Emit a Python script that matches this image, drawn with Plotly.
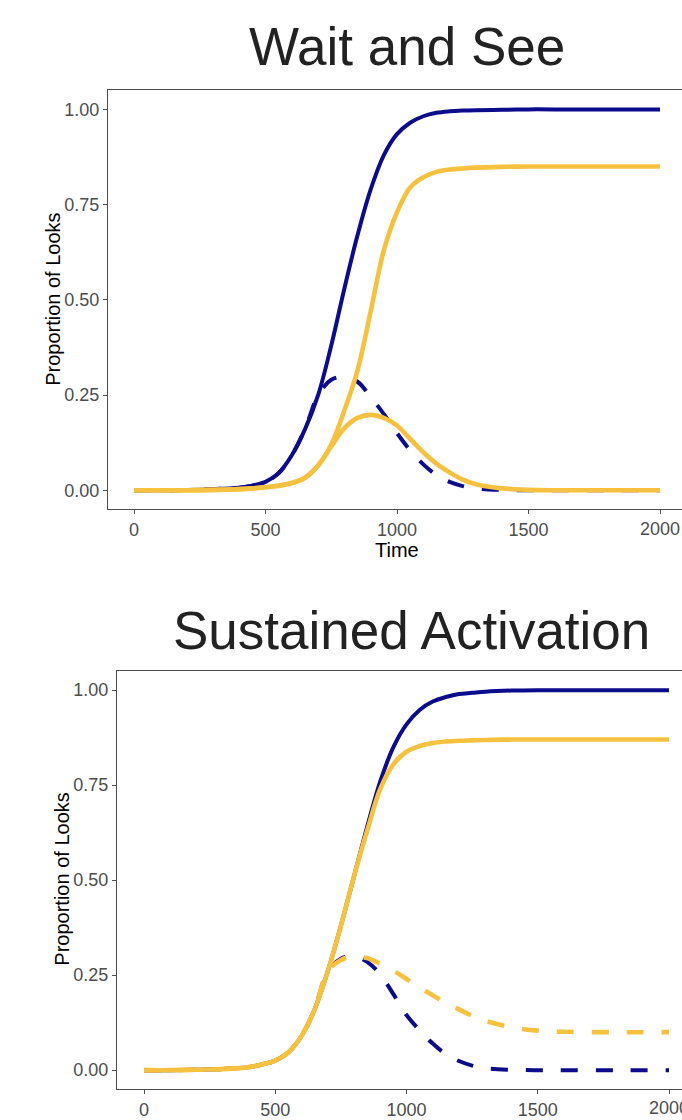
import plotly.graph_objects as go

# ---------------- data ----------------
# Panel 1: Wait and See
t_ws = [0, 100, 200, 300, 400, 450, 500, 550, 600, 650, 700, 750, 800, 850, 900, 950,
        1000, 1050, 1100, 1150, 1200, 1250, 1300, 1400, 1500, 1600, 1800, 2000]
ws_navy_solid = [0, 0, 0.001, 0.003, 0.007, 0.012, 0.022, 0.045, 0.092, 0.16, 0.25, 0.38, 0.53,
                 0.67, 0.79, 0.88, 0.935, 0.965, 0.982, 0.991, 0.995, 0.997, 0.998, 0.999,
                 1.0, 1.0, 1.0, 1.0]
ws_navy_dash = [0, 0, 0.001, 0.003, 0.007, 0.012, 0.022, 0.045, 0.092, 0.16, 0.25, 0.29, 0.298,
                0.285, 0.245, 0.2, 0.15, 0.105, 0.068, 0.04, 0.022, 0.011, 0.005, 0.001,
                0, 0, 0, 0]
ws_gold_sig = [0, 0, 0, 0.001, 0.003, 0.005, 0.008, 0.012, 0.019, 0.033, 0.065, 0.12, 0.21,
               0.315, 0.47, 0.63, 0.73, 0.795, 0.822, 0.836, 0.842, 0.845, 0.847, 0.849,
               0.85, 0.85, 0.85, 0.85]
ws_gold_bump = [0, 0, 0, 0.001, 0.003, 0.005, 0.008, 0.012, 0.019, 0.033, 0.065, 0.115, 0.163,
                0.19, 0.198, 0.19, 0.17, 0.135, 0.1, 0.07, 0.047, 0.028, 0.016, 0.005,
                0.001, 0, 0, 0]

# Panel 2: Sustained Activation
t_sa = [0, 100, 200, 300, 400, 450, 500, 550, 600, 650, 700, 750, 800, 850, 900, 950,
        1000, 1050, 1100, 1150, 1200, 1250, 1300, 1400, 1500, 1600, 1800, 2000]
sa_navy_solid = [0, 0, 0.001, 0.003, 0.008, 0.015, 0.025, 0.047, 0.09, 0.16, 0.26, 0.38, 0.51,
                 0.64, 0.76, 0.85, 0.91, 0.948, 0.97, 0.982, 0.99, 0.993, 0.996, 0.999,
                 1.0, 1.0, 1.0, 1.0]
sa_navy_dash = [0, 0, 0.001, 0.003, 0.008, 0.015, 0.025, 0.047, 0.09, 0.16, 0.26, 0.293, 0.3,
                0.285, 0.252, 0.2, 0.145, 0.105, 0.07, 0.042, 0.024, 0.012, 0.005, 0.001,
                0, 0, 0, 0]
sa_gold_solid = [0, 0, 0.001, 0.003, 0.008, 0.015, 0.025, 0.047, 0.09, 0.16, 0.26, 0.38, 0.51,
                 0.63, 0.74, 0.805, 0.838, 0.853, 0.861, 0.865, 0.867, 0.868, 0.869, 0.87,
                 0.87, 0.87, 0.87, 0.87]
sa_gold_dash = [0, 0, 0.001, 0.003, 0.008, 0.015, 0.025, 0.047, 0.09, 0.16, 0.26, 0.29, 0.3,
                0.295, 0.28, 0.262, 0.24, 0.218, 0.197, 0.177, 0.16, 0.143, 0.13, 0.113,
                0.104, 0.101, 0.1, 0.1]

x_ticks = [0, 500, 1000, 1500, 2000]
y_ticks = [0, 0.25, 0.5, 0.75, 1.0]
titles = ["Wait and See", "Sustained Activation"]

# ---------------- styling ----------------
NAVY = "#0b0b8b"
GOLD = "#F6C13F"
FONT = "Arial, Liberation Sans, sans-serif"
W, H = 682, 1120
DASH = "17px,18px"


def px_x(p):
    return p / W


def px_y(p):
    return 1 - p / H


fig = go.Figure()


def add(x, y, color, dash, xa, ya, lw):
    fig.add_trace(go.Scatter(
        x=x, y=y, mode="lines", xaxis=xa, yaxis=ya,
        line=dict(color=color, width=lw, dash=dash, shape="spline", smoothing=1.0),
        hoverinfo="skip", showlegend=False))


add(t_ws, ws_navy_solid, NAVY, "solid", "x", "y", 4.0)
add(t_ws, ws_navy_dash, NAVY, DASH, "x", "y", 4.0)
add(t_ws, ws_gold_sig, GOLD, "solid", "x", "y", 4.6)
add(t_ws, ws_gold_bump, GOLD, "solid", "x", "y", 4.6)

add(t_sa, sa_navy_solid, NAVY, "solid", "x2", "y2", 4.0)
add(t_sa, sa_navy_dash, NAVY, DASH, "x2", "y2", 4.0)
add(t_sa, sa_gold_solid, GOLD, "solid", "x2", "y2", 4.6)
add(t_sa, sa_gold_dash, GOLD, DASH, "x2", "y2", 4.6)

axis_common = dict(
    showgrid=False, zeroline=False, showline=True, linecolor="#4d4d4d", linewidth=1.2,
    ticks="outside", ticklen=4, tickwidth=1, tickcolor="#4d4d4d",
    tickfont=dict(family=FONT, size=18, color="#4D4D4D"),
    showspikes=False,
)

X1_0, X1_2000 = 134, 660
X2_0, X2_2000 = 144, 669
x1_scale = (X1_2000 - X1_0) / 2000
x2_scale = (X2_2000 - X2_0) / 2000

# the 2000 tick keeps its mark; its label is an annotation so it can be clipped at the edge
x_ticktext = [str(v) for v in x_ticks[:-1]] + [""]

fig.update_layout(
    width=W, height=H, margin=dict(l=0, r=0, t=0, b=0),
    paper_bgcolor="white", plot_bgcolor="white",
    showlegend=False, hovermode=False,
    xaxis=dict(axis_common, domain=[px_x(108), 1.0],
               range=[(108 - X1_0) / x1_scale, (W - X1_0) / x1_scale],
               tickvals=x_ticks, ticktext=x_ticktext, mirror=True, anchor="y"),
    yaxis=dict(axis_common, domain=[px_y(513), px_y(91)], range=[-0.05, 1.05],
               tickvals=y_ticks, ticktext=[f"{v:.2f}" for v in y_ticks], anchor="x"),
    xaxis2=dict(axis_common, domain=[px_x(117), 1.0],
                range=[(117 - X2_0) / x2_scale, (W - X2_0) / x2_scale],
                tickvals=x_ticks, ticktext=x_ticktext, mirror=True, anchor="y2"),
    yaxis2=dict(axis_common, domain=[px_y(1097), px_y(676)], range=[-0.05, 1.05],
                tickvals=y_ticks, ticktext=[f"{v:.2f}" for v in y_ticks], anchor="x2"),
)

ann = []
ann.append(dict(text=titles[0], x=px_x(407), y=px_y(47), xref="paper", yref="paper",
                xanchor="center", yanchor="middle", showarrow=False,
                font=dict(family=FONT, size=53, color="#222222")))
ann.append(dict(text=titles[1], x=px_x(411), y=px_y(635), xref="paper", yref="paper",
                xanchor="center", yanchor="middle", showarrow=False,
                font=dict(family=FONT, size=53, color="#222222")))
ann.append(dict(text="Time", x=px_x(397), y=px_y(554), xref="paper", yref="paper",
                xanchor="center", yanchor="middle", showarrow=False,
                font=dict(family=FONT, size=20, color="black")))
ann.append(dict(text="Proportion of Looks", x=px_x(53), y=px_y(302), xref="paper",
                yref="paper", xanchor="center", yanchor="middle", showarrow=False,
                textangle=-90, font=dict(family=FONT, size=20, color="black")))
ann.append(dict(text="Proportion of Looks", x=px_x(62), y=px_y(886), xref="paper",
                yref="paper", xanchor="center", yanchor="middle", showarrow=False,
                textangle=-90, font=dict(family=FONT, size=20, color="black")))
ann.append(dict(text=str(x_ticks[-1]), x=x_ticks[-1], y=px_y(533), xref="x", yref="paper",
                xanchor="center", yanchor="middle", showarrow=False,
                font=dict(family=FONT, size=18, color="#4D4D4D")))
ann.append(dict(text=str(x_ticks[-1]), x=x_ticks[-1], y=px_y(1116), xref="x2", yref="paper",
                xanchor="center", yanchor="middle", showarrow=False,
                font=dict(family=FONT, size=18, color="#4D4D4D")))
fig.update_layout(annotations=ann)

fig.write_html("out.html")
